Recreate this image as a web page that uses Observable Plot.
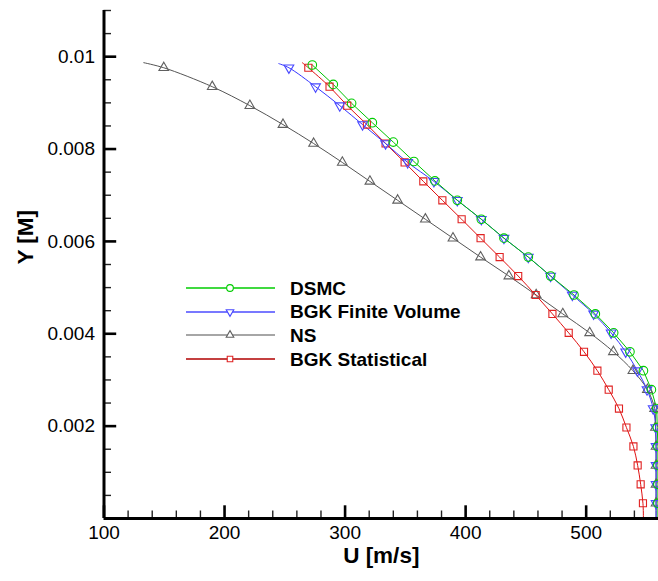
<!DOCTYPE html>
<html><head><meta charset="utf-8">
<script src="https://cdn.jsdelivr.net/npm/d3@7"></script>
<script src="https://cdn.jsdelivr.net/npm/@observablehq/plot@0.6"></script>
<style>
body{margin:0;background:#fff;font-family:"Liberation Sans",Arial,Helvetica,sans-serif;}
#wrap{position:relative;width:658px;height:581px;overflow:hidden;}
#legend{position:absolute;left:186px;top:276.5px;}
.row{display:flex;align-items:center;height:23.6px;}
.row svg{display:block;}
.row span{margin-left:15px;font-weight:bold;font-size:19px;color:#000;line-height:1;}
</style></head><body>
<div id="wrap"><div id="chart"></div><div id="legend"></div></div>
<script>
// ---- data ----
const seriesNames = ["DSMC", "BGK Finite Volume", "NS", "BGK Statistical"];
const xTitle = "U [m/s]";
const yTitle = "Y [M]";
const xMajorTicks = [100, 200, 300, 400, 500];
const xTickLabels = ["100", "200", "300", "400", "500"];
const yMajorTicks = [0.002, 0.004, 0.006, 0.008, 0.01];
const yTickLabels = ["0.002", "0.004", "0.006", "0.008", "0.01"];
const xMinorTicks = [120,140,160,180,220,240,260,280,320,340,360,380,420,440,460,480,520,540];
const yMinorTicks = [0.0005,0.001,0.0015,0.0025,0.003,0.0035,0.0045,0.005,0.0055,0.0065,0.007,0.0075,0.0085,0.009,0.0095,0.0105,0.011];

// marker heights (shared by BGK FV, NS, BGK Statistical), top to bottom
const yMarkers = [0.00976,0.00935,0.00894,0.00853,0.00812,0.00771,0.00730,0.00689,0.00648,0.00607,0.00566,0.00525,
                  0.00484,0.00443,0.00402,0.00361,0.00320,0.00279,0.00238,0.00197,0.00156,0.00115,0.00074,0.00033];
const yDSMC = [0.00982,0.00940,0.00899,0.00857,0.00815,0.00773,0.00731,0.00689,0.00648,0.00607,0.00566,0.00525,
               0.00484,0.00443,0.00402,0.00361,0.00320,0.00279,0.00238,0.00197,0.00156,0.00115,0.00074,0.00033];

const uDSMC = [272.8,290.2,305.4,322.6,340.0,357.1,374.5,393.1,413.0,431.8,452.0,470.5,
               489.9,507.6,522.8,536.3,547.5,554.1,558.5,559,559.5,559.5,559.5,559.5];
const uBGKFV = [253.4,275.5,295.6,314.5,333.6,351.9,373.7,393.1,413.0,431.8,452.0,470.5,
                488.5,506.2,520.7,532.8,542.5,550.5,555.6,557.7,558,558,558,558];
const uNS = [149.6,189.8,221.0,248.5,273.9,297.7,320.6,343.6,366.6,389.5,412.4,435.9,
             458.5,480.6,502.9,522.6,538.8,550.8,556.8,557.5,558,558,558,558];
const uBGKStat = [269.5,287.1,301.8,318.1,333.6,349.4,364.9,380.7,396.7,412.4,428.2,443.6,
                  458.1,472.0,485.5,498.2,509.3,518.7,527.2,533.4,539.2,542.7,545.2,547.1];

// line end points (beyond the first / last marker): [u, y]
const startDSMC = [272.8, 0.00982], endDSMC = [559.5, 0];
const startBGKFV = [245, 0.00985], endBGKFV = [558, 0];
const startNS = [133, 0.00987], endNS = [558, 0];
const startBGKStat = [264.5, 0.00987], endBGKStat = [547.5, 0];

// ---- build tables ----
const markers = (u, y) => u.map((v, i) => ({u: v, y: y[i]}));
const line = (s, u, y, e) => [{u: s[0], y: s[1]}, ...markers(u, y), {u: e[0], y: e[1]}];

const triangleDown = {draw(ctx, size) {
  const y = -Math.sqrt(size / (Math.sqrt(3) * 3));
  ctx.moveTo(0, -y * 2);
  ctx.lineTo(Math.sqrt(3) * y, y);
  ctx.lineTo(-Math.sqrt(3) * y, y);
  ctx.closePath();
}};

const styles = [
  {line: "#00c400", mark: "#00cc00", symbol: "circle", r: 4.3, curve: "linear", legLine: "#00cc00", legW: 1.3},
  {line: "#3636ff", mark: "#4848ff", symbol: triangleDown, r: 3.6, curve: "catmull-rom", legLine: "#7878ff", legW: 2},
  {line: "#555555", mark: "#606060", symbol: "triangle", r: 3.6, curve: "catmull-rom", legLine: "#888888", legW: 1.6},
  {line: "#e01010", mark: "#e02222", symbol: "square", r: 4.0, curve: "catmull-rom", legLine: "#b00000", legW: 1.3}
];

const lines = [
  line(startDSMC, uDSMC, yDSMC, endDSMC),
  line(startBGKFV, uBGKFV, yMarkers, endBGKFV),
  line(startNS, uNS, yMarkers, endNS),
  line(startBGKStat, uBGKStat, yMarkers, endBGKStat)
];
const dots = [
  markers(uDSMC, yDSMC),
  markers(uBGKFV, yMarkers),
  markers(uNS, yMarkers),
  markers(uBGKStat, yMarkers)
];

const W = 658, H = 581, mL = 103.5, mR = 0, mT = 10, mB = 63;
const fw = W - mL - mR, fh = H - mT - mB;
const font = '"Liberation Sans", Arial, Helvetica, sans-serif';

const seriesMarks = [];
[2, 3, 1, 0].forEach(i => {
  seriesMarks.push(Plot.line(lines[i], {x: "u", y: "y", stroke: styles[i].line, strokeWidth: 1, curve: styles[i].curve}));
});
[2, 3, 1, 0].forEach(i => {
  seriesMarks.push(Plot.dot(dots[i], {x: "u", y: "y", symbol: styles[i].symbol, r: styles[i].r,
    stroke: styles[i].mark, strokeWidth: 1.1, fill: "none"}));
});

const chart = Plot.plot({
  width: W, height: H,
  marginLeft: mL, marginRight: mR, marginTop: mT, marginBottom: mB,
  x: {domain: [100, 560]},
  y: {domain: [0, 0.011]},
  style: {fontFamily: font, background: "white", color: "black"},
  marks: [
    ...seriesMarks,
    Plot.tickX(xMinorTicks, {x: d => d, insetTop: fh - 7.5, stroke: "#222", strokeWidth: 1.4}),
    Plot.tickX(xMajorTicks, {x: d => d, insetTop: fh - 12.7, stroke: "#000", strokeWidth: 2.6}),
    Plot.tickY(yMinorTicks, {y: d => d, insetRight: fw - 7.5, stroke: "#222", strokeWidth: 1.4}),
    Plot.tickY(yMajorTicks, {y: d => d, insetRight: fw - 12.7, stroke: "#000", strokeWidth: 2.6}),
    Plot.ruleY([0], {stroke: "#000", strokeWidth: 3}),
    Plot.ruleX([100], {stroke: "#000", strokeWidth: 3}),
    Plot.axisX(xMajorTicks, {tickSize: 0, tickPadding: 7, fontSize: 19, label: null,
      tickFormat: d => xTickLabels[xMajorTicks.indexOf(d)]}),
    Plot.axisY(yMajorTicks, {tickSize: 0, tickPadding: 9, fontSize: 19, label: null,
      tickFormat: d => yTickLabels[yMajorTicks.indexOf(d)]}),
    Plot.text([xTitle], {text: d => d, frameAnchor: "bottom", dy: 44, fontSize: 22.5, fontWeight: "bold"}),
    Plot.text([yTitle], {text: d => d, frameAnchor: "left", dx: -78, rotate: -90, fontSize: 22.5, fontWeight: "bold"})
  ]
});
document.getElementById("chart").appendChild(chart);

// ---- legend (inside the plot area) ----
const legend = document.getElementById("legend");
const symbolPath = (sym, r) => {
  const type = typeof sym === "string"
    ? {circle: d3.symbolCircle, triangle: d3.symbolTriangle, square: d3.symbolSquare}[sym]
    : sym;
  return d3.symbol(type, Math.PI * r * r)();
};
seriesNames.forEach((name, i) => {
  const s = styles[i];
  const row = document.createElement("div");
  row.className = "row";
  const rr = s.r * 0.78;
  row.innerHTML = `<svg width="89" height="12" viewBox="0 0 89 12">
    <line x1="0" x2="89" y1="6" y2="6" stroke="${s.legLine}" stroke-width="${s.legW}"/>
    <path d="${symbolPath(s.symbol, rr)}" transform="translate(44,6)" fill="white" stroke="${s.mark}" stroke-width="1.1"/>
  </svg><span>${name}</span>`;
  legend.appendChild(row);
});
</script>
</body></html>
